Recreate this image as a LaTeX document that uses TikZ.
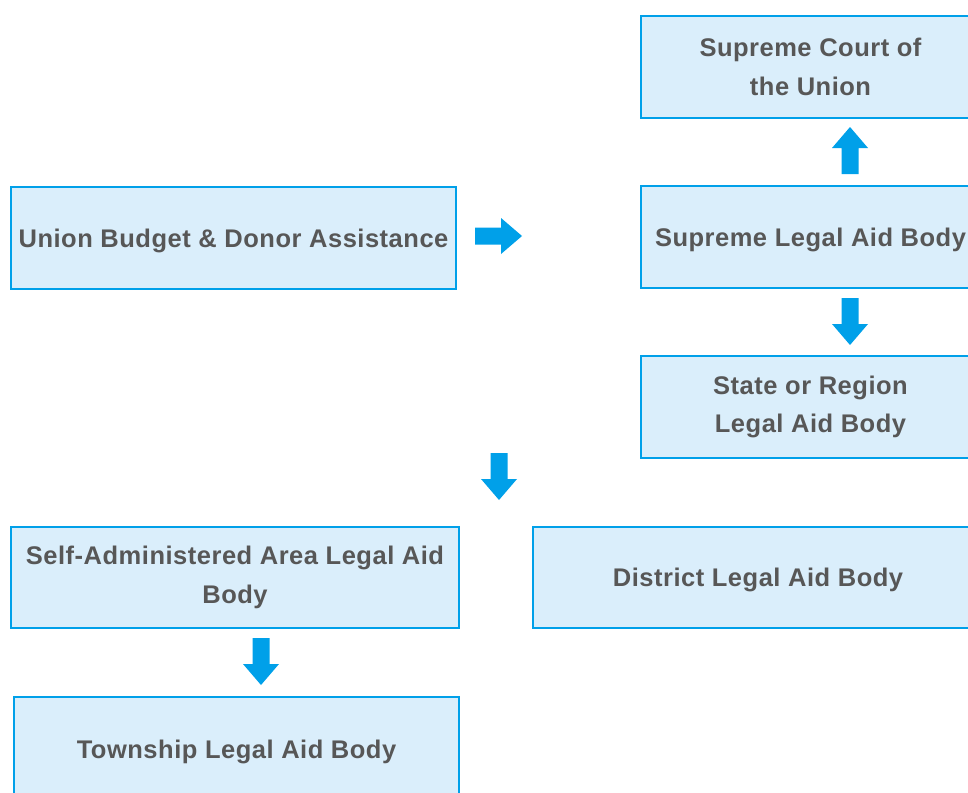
\documentclass[tikz,border=0pt]{standalone}
\usepackage{fontspec}
\setmainfont{Liberation Sans}[LetterSpace=2]
\definecolor{boxblue}{HTML}{00A0E9}
\definecolor{boxfill}{HTML}{DAEEFB}
\definecolor{txtgray}{HTML}{575757}
\newcommand{\blkarrow}[3]{\fill[boxblue, shift={(#1,#2)}, rotate=#3] (0,-8.5) -- (26,-8.5) -- (26,-18) -- (47,0) -- (26,18) -- (26,8.5) -- (0,8.5) -- cycle;}
\tikzset{
  orgbox/.style={draw=boxblue, fill=boxfill, line width=2.5pt, rectangle, anchor=north west,
    align=center, inner sep=2pt, outer sep=0pt, text=txtgray,
    font=\fontsize{25.5}{38.5}\selectfont\bfseries},
  oneline/.style={text depth=0pt}
}
\begin{document}
\begin{tikzpicture}[x=1pt,y=1pt]
\useasboundingbox (0,0) rectangle (968,-792);
\clip (0,0) rectangle (968,-792);
\fill[white] (0,0) rectangle (968,-792);
\node[orgbox, minimum width=339, minimum height=102] (sc) at (641,-16) {Supreme Court of\\the Union};
\node[orgbox, oneline, minimum width=339, minimum height=102] (sla) at (641,-186) {Supreme Legal Aid Body};
\node[orgbox, minimum width=339, minimum height=102] (srl) at (641,-356) {State or Region\\Legal Aid Body};
\node[orgbox, oneline, minimum width=445, minimum height=102] (ub) at (11,-187) {Union Budget \& Donor Assistance};
\node[orgbox, minimum width=448, minimum height=101] (sa) at (11,-527) {Self-Administered Area Legal Aid\\Body};
\node[orgbox, oneline, minimum width=450, minimum height=101] (dl) at (533,-527) {District Legal Aid Body};
\node[orgbox, oneline, minimum width=445, minimum height=104] (tl) at (14,-697) {Township Legal Aid Body};
\blkarrow{475}{-236}{0}
\blkarrow{850}{-174}{90}
\blkarrow{850}{-298}{-90}
\blkarrow{499}{-453}{-90}
\blkarrow{261}{-638}{-90}
\end{tikzpicture}
\end{document}
